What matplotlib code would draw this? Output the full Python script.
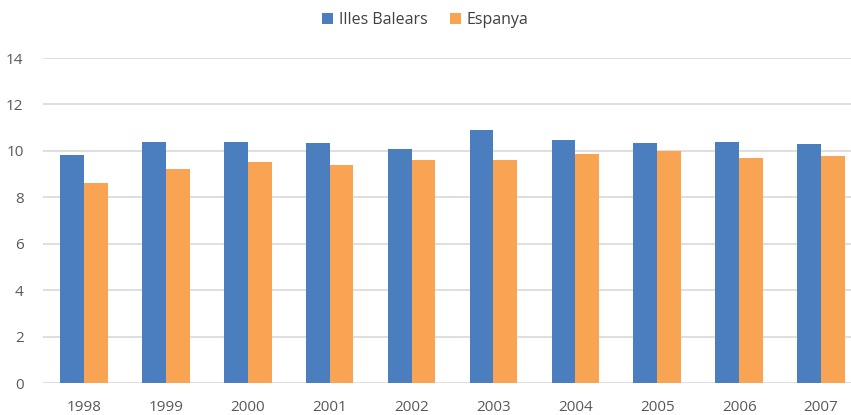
import matplotlib
matplotlib.use("Agg")
import matplotlib.pyplot as plt
import numpy as np

years = ["1998", "1999", "2000", "2001", "2002", "2003", "2004", "2005", "2006", "2007"]
illes_balears = [9.83, 10.39, 10.39, 10.34, 10.09, 10.9, 10.47, 10.34, 10.39, 10.3]
espanya = [8.62, 9.22, 9.53, 9.40, 9.61, 9.61, 9.87, 10.0, 9.70, 9.78]

plt.rcParams['font.family'] = ['Open Sans', 'DejaVu Sans']

fig = plt.figure(figsize=(8.51, 4.15), dpi=100)
ax = fig.add_axes([43/851, 1-383/415, (862-43)/851, (383-58)/415])

x = np.arange(len(years))
w = 0.29
ax.bar(x - w/2, illes_balears, w, color="#4A7EBF", label="Illes Balears", zorder=3)
ax.bar(x + w/2, espanya, w, color="#F9A453", label="Espanya", zorder=3)

ax.set_xlim(-0.5, 9.5)
ax.set_ylim(0, 14)
ax.set_yticks(range(0, 15, 2))
ax.set_xticks(x)
ax.set_xticklabels(years)
ax.grid(axis="y", color="#D9D9D9", linewidth=1.2, zorder=0)
for s in ax.spines.values():
    s.set_visible(False)
ax.tick_params(length=0, labelsize=11, colors="#595959")
ax.tick_params(axis="y", pad=14)
ax.tick_params(axis="x", pad=12)

handles, labels = ax.get_legend_handles_labels()
fig.legend(handles, labels, loc="center", bbox_to_anchor=(0.5, 1-20/415), ncol=2,
           frameon=False, fontsize=11.5, handlelength=0.65, handleheight=0.65,
           handletextpad=0.4, columnspacing=1.4, labelcolor="#404040")

fig.savefig("out.png", dpi=100)
